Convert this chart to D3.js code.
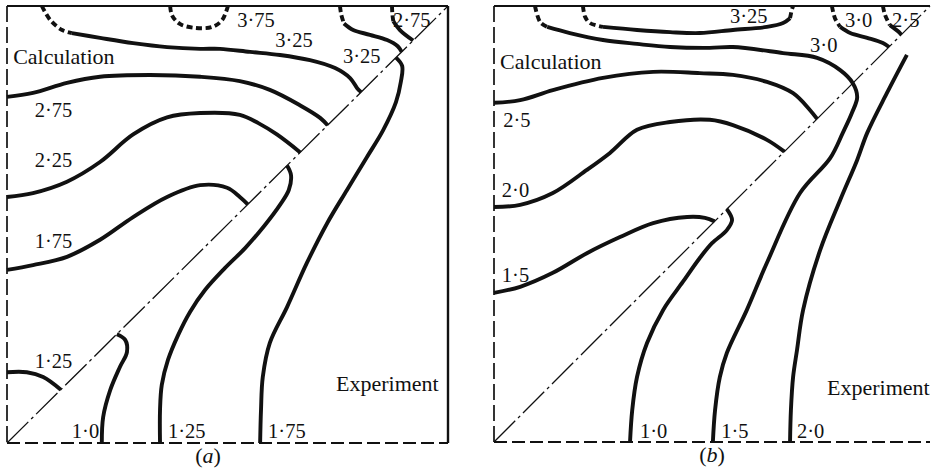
<!DOCTYPE html>
<html>
<head>
<meta charset="utf-8">
<script src="https://cdn.jsdelivr.net/npm/d3@7"></script>
<style>
  body { margin: 0; background: #fff; }
  text { font-family: "Liberation Serif", "Times New Roman", serif; fill: #111; }
</style>
</head>
<body>
<div id="chart"></div>
<script>
// contour points: [x, y] in percent of the panel, origin at bottom-left

// panel (a)
var a_375_dash = [[37.0,100],[37.4,97.9],[39.2,95.9],[42.6,95.0],[46.5,95.2],[48.8,96.8],[50.1,100]];
var a_325_dash = [[7.9,100],[9.8,96.8],[12.5,94.5],[14.7,93.8]];
var a_325 = [[14.7,93.8],[21.1,92.7],[28.6,91.5],[36.3,90.6],[43.8,90.2],[48.3,90.2],[55.1,89.5],[61.9,88.8],[68.7,87.6],[74.4,85.8],[77.8,83.5],[79.4,81.2],[80.3,80.3]];
var a_275 = [[0,79.2],[5.9,80.1],[13.6,82.4],[21.1,83.8],[32.4,84.2],[43.8,83.8],[52.8,82.8],[59.6,80.8],[66.4,77.3],[71.0,74.4],[72.7,72.7]];
var a_225 = [[0,56.3],[5.9,57.2],[13.6,59.8],[21.1,64.3],[28.6,70.6],[36.3,74.5],[43.8,75.5],[52.8,75.1],[57.0,73.2],[61.2,70.6],[66.5,66.5]];
var a_175 = [[0,39.6],[5.9,40.7],[13.6,42.6],[21.1,46.5],[28.6,51.7],[36.3,56.3],[43.8,59.0],[49.9,58.4],[52.8,56.3],[54.6,54.6]];
var a_125 = [[0,16.2],[4.5,16.2],[8.2,15.1],[12.2,12.2]];
var a_tr1_dash = [[75.5,100],[75.8,98],[76.4,96]];
var a_tr1 = [[76.4,96],[78.5,94.5],[82.3,93.4],[86.2,92.2],[88.6,90.8],[89.5,89.5]];
var a_tr2_dash = [[87.3,100],[87.4,98],[87.6,96.5]];
var a_tr2 = [[87.6,96.5],[89.1,94.5],[92.1,92.1]];
var a_e175 = [[88.2,88.2],[89.6,86.3],[89.3,82.6],[88.2,78.0],[85.3,71.6],[81.6,65.4],[77.1,57.9],[72.6,50.3],[68.0,41.2],[63.5,31.1],[59.6,22.9],[58.0,15.1],[57.6,7.6],[57.4,0]];
var a_e125 = [[63.5,63.5],[64.4,61.3],[63.9,57.9],[61.9,54.5],[58.5,49.9],[54.0,44.6],[49.4,40.0],[44.9,35.0],[41.5,30.0],[38.8,24.7],[36.5,19.0],[35.1,13.3],[34.7,7.6],[34.7,0]];
var a_e100 = [[24.9,24.9],[26.8,23.6],[27.2,20.8],[25.6,17.4],[23.4,12.1],[21.8,5.9],[21.5,0]];

// panel (b)
var b_325_dashL = [[20.4,100],[20.9,97.5],[22.0,96.1],[25.0,95.2]];
var b_325 = [[25.0,95.2],[32.8,94.5],[40.4,94.0],[47.2,93.8],[54.8,94.5],[62.6,95.2],[66.3,96.1],[67.9,97.2]];
var b_325_dashR = [[67.9,97.2],[68.3,99.1],[68.6,100]];
var b_300_dash = [[9.4,100],[10.6,96.3],[12.2,95.2]];
var b_300 = [[12.2,95.2],[17.4,93.8],[25.0,92.2],[32.8,91.3],[40.4,90.6],[49.5,90.4],[54.8,90.6],[66.3,89.2],[74.1,88.1],[79.4,85.3],[82.3,82.3],[83.3,79.1],[82.1,75.5],[80.0,70.9],[77.1,65.1],[70.2,57.1],[62.6,41.1],[58.0,30.3],[53.4,20.4],[51.8,14.9],[50.7,7.3],[50.2,0]];
var b_250 = [[0,77.8],[6.0,78.4],[13.5,80.7],[25.0,83.5],[36.5,84.9],[47.2,84.6],[54.8,84.2],[62.6,82.6],[68.6,80.0],[72.5,76.1],[74.1,74.1]];
var b_200 = [[0,53.9],[6.0,54.4],[13.5,57.1],[21.3,62.4],[26.6,66.3],[32.8,71.6],[40.4,73.4],[49.5,73.9],[54.8,72.7],[62.6,69.3],[66.6,66.6]];
var b_150 = [[0,34.2],[6.0,35.6],[13.5,38.8],[21.3,43.3],[28.9,47.0],[36.5,50.2],[44.3,51.6],[48.4,51.4],[50.6,50.6]];
var b_300s_dash = [[77.5,100],[78.2,97.2],[79.4,95.2]];
var b_300s = [[79.4,95.2],[81.7,93.8],[85.6,92.7],[89.2,91.5],[90.6,90.6]];
var b_250s_dash = [[89.2,100],[89.7,97.9],[90.8,95.6]];
var b_250s = [[90.8,95.6],[93.1,93.8],[93.4,93.4]];
var b_e100 = [[53.4,53.4],[54.6,50.9],[53.4,48.6],[50.0,45.6],[47.2,42.2],[43.3,36.7],[38.8,30.3],[35.1,22.7],[32.8,14.9],[31.7,7.3],[31.2,0]];
var b_e200 = [[94.7,88.8],[90.1,80.0],[85.6,70.9],[83.3,64.7],[79.4,55.5],[74.8,44.0],[70.9,30.3],[69.5,21.1],[68.6,14.9],[68.1,7.3],[67.9,0]];

// labels: [text, x, y(baseline)]
var labelsA = [["Calculation",1.4,86.7],["2·75",6.3,74.6],["2·25",6.3,63.2],["1·75",6.3,44.6],["1·25",6.3,17.2],
  ["1·0",14.7,1.1],["1·25",36.5,1.1],["1·75",59.2,1.1],["Experiment",74.6,11.9],
  ["3·75",52.2,95.2],["3·25",60.8,90.6],["3·25",76.2,87.0],["2·75",87.5,95.2]];
var labelsB = [["Calculation",1.4,85.6],["2·5",2.1,72.2],["2·0",1.8,56.2],["1·5",1.8,36.7],
  ["1·0",33.5,0.9],["1·5",52.1,0.9],["2·0",69.5,0.9],["Experiment",76.4,10.8],
  ["3·25",54.1,96.1],["3·0",80.5,95.2],["3·0",72.5,89.4],["2·5",91.3,95.2]];

var panels = [
  { name: "a", left: 7, right: 448, top: 6, bottom: 443, border: true,
    solid: [a_325, a_275, a_225, a_175, a_125, a_tr1, a_tr2, a_e175, a_e125, a_e100],
    dashed: [a_375_dash, a_325_dash, a_tr1_dash, a_tr2_dash],
    labels: labelsA, capX: 45.6 },
  { name: "b", left: 494, right: 930, top: 6, bottom: 442, border: false,
    solid: [b_325, b_300, b_250, b_200, b_150, b_300s, b_250s, b_e100, b_e200],
    dashed: [b_325_dashL, b_325_dashR, b_300_dash, b_300s_dash, b_250s_dash],
    labels: labelsB, capX: 50 }
];

var svg = d3.select("#chart").append("svg")
  .attr("width", 932)
  .attr("height", 472);

svg.append("rect").attr("width", 932).attr("height", 472).attr("fill", "#fff");

panels.forEach(function(p) {
  var x = d3.scaleLinear().domain([0, 100]).range([p.left, p.right]);
  var y = d3.scaleLinear().domain([0, 100]).range([p.bottom, p.top]);
  var g = svg.append("g");

  var line = d3.line()
    .x(d => x(d[0]))
    .y(d => y(d[1]))
    .curve(d3.curveCatmullRom.alpha(0.5));

  // frame: solid top/right, dashed left/bottom
  g.append("line").attr("x1", x(0)).attr("x2", x(100)).attr("y1", y(100)).attr("y2", y(100))
    .attr("stroke", "#111").attr("stroke-width", 2);
  if (p.border)
    g.append("line").attr("x1", x(100)).attr("x2", x(100)).attr("y1", y(100)).attr("y2", y(0))
      .attr("stroke", "#111").attr("stroke-width", 2.4);
  g.append("line").attr("x1", x(0)).attr("x2", x(0)).attr("y1", y(100)).attr("y2", y(0))
    .attr("stroke", "#111").attr("stroke-width", 1.7).attr("stroke-dasharray", "16,5");
  g.append("line").attr("x1", x(0)).attr("x2", x(100)).attr("y1", y(0)).attr("y2", y(0))
    .attr("stroke", "#111").attr("stroke-width", 1.9).attr("stroke-dasharray", "13,5");

  // diagonal
  g.append("line").attr("x1", x(0)).attr("y1", y(0)).attr("x2", x(100)).attr("y2", y(100))
    .attr("stroke", "#111").attr("stroke-width", 1.3).attr("stroke-dasharray", "30,4,3,4");

  g.selectAll("path.solid")
    .data(p.solid)
    .enter().append("path")
      .attr("class", "solid")
      .attr("d", line)
      .attr("fill", "none")
      .attr("stroke", "#111")
      .attr("stroke-width", 3.9);

  g.selectAll("path.dash")
    .data(p.dashed)
    .enter().append("path")
      .attr("class", "dash")
      .attr("d", line)
      .attr("fill", "none")
      .attr("stroke", "#111")
      .attr("stroke-width", 3.9)
      .attr("stroke-dasharray", "6,3.5");

  g.selectAll("text.lab")
    .data(p.labels)
    .enter().append("text")
      .attr("class", "lab")
      .attr("x", d => x(d[1]))
      .attr("y", d => y(d[2]))
      .attr("font-size", d => d[0].length > 4 ? 22 : 20.5)
      .text(d => d[0]);

  var cap = g.append("text")
    .attr("x", x(p.capX))
    .attr("y", y(0) + 20)
    .attr("text-anchor", "middle")
    .attr("font-size", 22);
  cap.append("tspan").text("(");
  cap.append("tspan").attr("font-style", "italic").text(p.name);
  cap.append("tspan").text(")");
});
</script>
</body>
</html>
